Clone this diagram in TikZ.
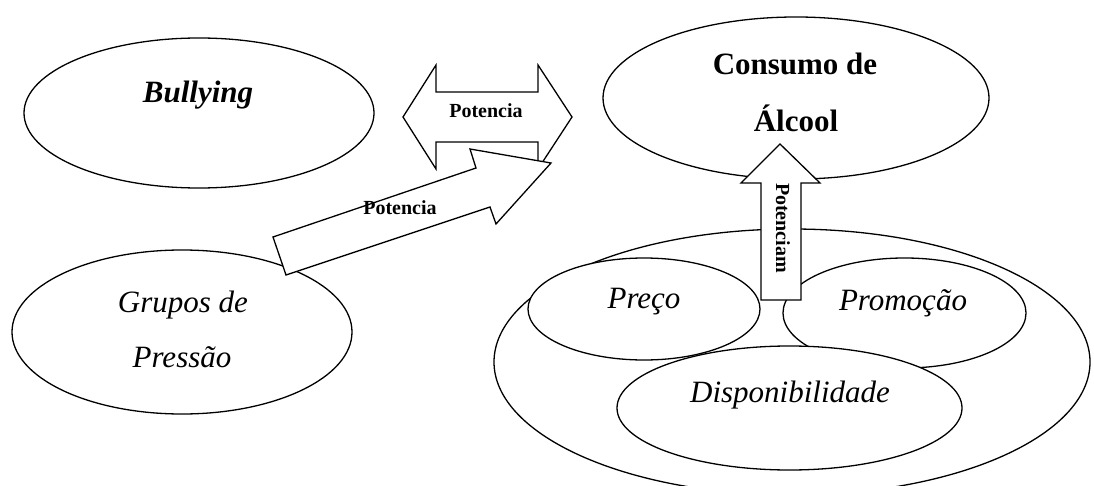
\documentclass[tikz,border=0pt]{standalone}
\usepackage{fontspec}
\setmainfont{Liberation Serif}
\usetikzlibrary{shapes.geometric}
\begin{document}
\begin{tikzpicture}[x=1pt,y=-1pt,
  ell/.style={draw, ellipse, line width=1.3pt, inner sep=0pt, fill=white},
  blk/.style={draw, line width=1.3pt, fill=white, line join=miter},
  bigit/.style={font=\itshape\fontsize{31}{37}\selectfont, anchor=base, inner sep=0pt},
  bigbf/.style={font=\bfseries\fontsize{31}{37}\selectfont, anchor=base, inner sep=0pt},
  bigbi/.style={font=\bfseries\itshape\fontsize{31}{37}\selectfont, anchor=base, inner sep=0pt},
  lab/.style={font=\bfseries\fontsize{20}{24}\selectfont, inner sep=0pt}]
\useasboundingbox (0,0) rectangle (1094,486);
\clip (0,0) rectangle (1094,486);

% left side
\node[ell, minimum width=350pt, minimum height=150pt] (bul) at (199,113) {};
\node[bigbi] (tbul) at (198,103) {Bullying};

\node[ell, minimum width=340pt, minimum height=164pt] (gru) at (182,332) {};
\node[bigit] (tgru1) at (183,312) {Grupos de};
\node[bigit] (tgru2) at (182,367) {Pressão};

% right side
\node[ell, minimum width=596pt, minimum height=266pt] (outer) at (792,362) {};
\node[ell, minimum width=232pt, minimum height=102pt] (preco) at (644,309) {};
\node[ell, minimum width=243pt, minimum height=110pt] (promo) at (904.5,313) {};
\node[ell, minimum width=345pt, minimum height=124pt] (disp) at (789.5,408) {};
\node[bigit] (tpreco) at (644,308) {Preço};
\node[bigit] (tpromo) at (903,310) {Promoção};
\node[bigit] (tdisp) at (790,402) {Disponibilidade};

\node[ell, minimum width=386pt, minimum height=162pt] (cons) at (796,98) {};
\node[bigbf] (tcons1) at (795,75) {Consumo de};
\node[bigbf] (tcons2) at (796,132) {Álcool};

% block arrows
\draw[blk] (780,144) -- (820,183) -- (801,183) -- (801,300) -- (761,300)
  -- (761,183) -- (741,183) -- cycle;
\node[lab, rotate=-90] (tpot3) at (783,228) {Potenciam};

\draw[blk] (403,117) -- (436,65) -- (436,92) -- (538,92) -- (538,65) -- (572,117)
  -- (538,169) -- (538,142) -- (436,142) -- (436,169) -- cycle;
\node[lab, anchor=base] (tpot1) at (486,118) {Potencia};

\draw[blk] (273,237) -- (476,168) -- (470,149) -- (551,163) -- (496,224)
  -- (490,207) -- (286,275) -- cycle;
\node[lab, anchor=base] (tpot2) at (400,215) {Potencia};
\end{tikzpicture}
\end{document}
